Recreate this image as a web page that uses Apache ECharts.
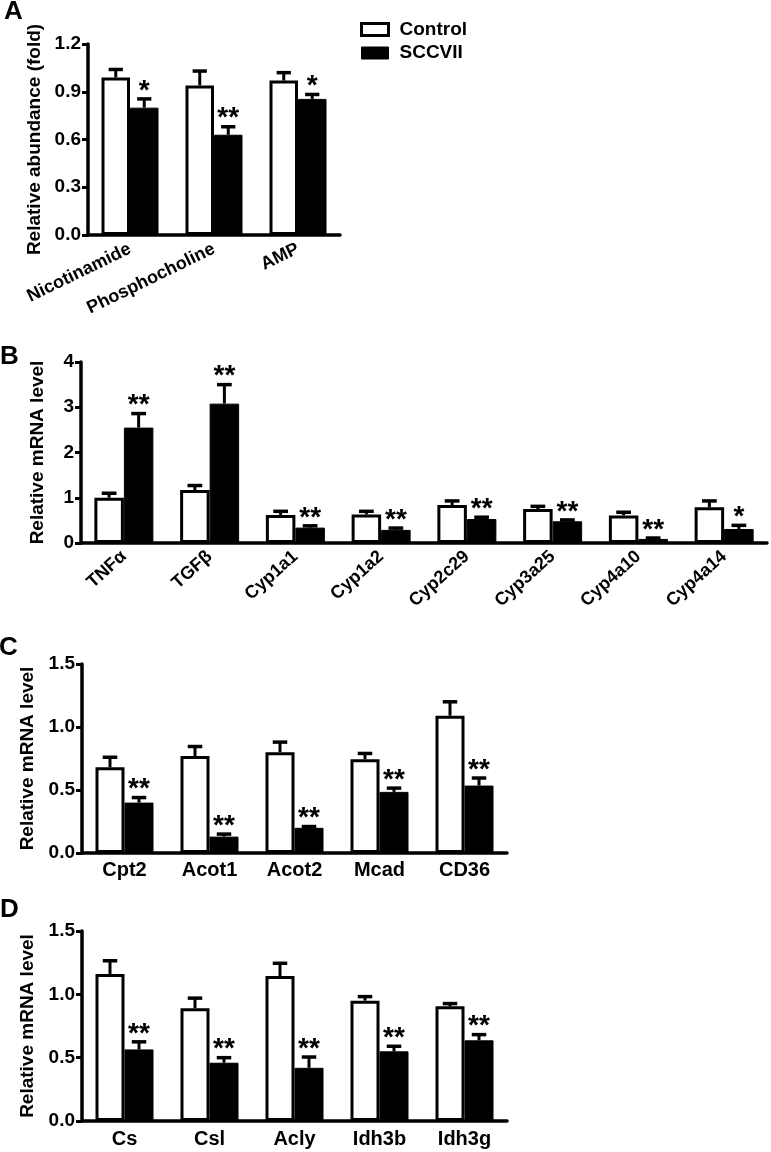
<!DOCTYPE html>
<html>
<head>
<meta charset="utf-8">
<script src="https://cdn.jsdelivr.net/npm/echarts@6/dist/echarts.min.js"></script>
<style>
html,body{margin:0;padding:0;background:#fff;}
#chart{width:771px;height:1152px;}
</style>
</head>
<body>
<div id="chart"></div>
<script>
// ---------- Panel A ----------
var catsA = ['Nicotinamide', 'Phosphocholine', 'AMP'];
var ctrlA = [0.99, 0.94, 0.97];
var ctrlSemA = [0.05, 0.09, 0.05];
var sccA = [0.80, 0.63, 0.855];
var sccSemA = [0.055, 0.05, 0.028];
var sigA = ['*', '**', '*'];
var ticksA = {min: 0, max: 1.2, interval: 0.3};

// ---------- Panel B ----------
var catsB = ['TNFα', 'TGFβ', 'Cyp1a1', 'Cyp1a2', 'Cyp2c29', 'Cyp3a25', 'Cyp4a10', 'Cyp4a14'];
var ctrlB = [1.00, 1.17, 0.62, 0.63, 0.84, 0.75, 0.61, 0.79];
var ctrlSemB = [0.10, 0.10, 0.08, 0.07, 0.09, 0.06, 0.07, 0.14];
var sccB = [2.55, 3.08, 0.34, 0.29, 0.53, 0.48, 0.09, 0.31];
var sccSemB = [0.31, 0.42, 0.04, 0.04, 0.04, 0.03, 0.02, 0.08];
var sigB = ['**', '**', '**', '**', '**', '**', '**', '*'];
var ticksB = {min: 0, max: 4, interval: 1};

// ---------- Panel C ----------
var catsC = ['Cpt2', 'Acot1', 'Acot2', 'Mcad', 'CD36'];
var ctrlC = [0.68, 0.77, 0.80, 0.745, 1.09];
var ctrlSemC = [0.08, 0.075, 0.08, 0.045, 0.11];
var sccC = [0.40, 0.13, 0.20, 0.485, 0.535];
var sccSemC = [0.04, 0.02, 0.01, 0.03, 0.06];
var sigC = ['**', '**', '**', '**', '**'];
var ticksC = {min: 0, max: 1.5, interval: 0.5};

// ---------- Panel D ----------
var catsD = ['Cs', 'Csl', 'Acly', 'Idh3b', 'Idh3g'];
var ctrlD = [1.16, 0.89, 1.145, 0.95, 0.905];
var ctrlSemD = [0.105, 0.08, 0.10, 0.032, 0.022];
var sccD = [0.565, 0.46, 0.42, 0.55, 0.637];
var sccSemD = [0.06, 0.04, 0.085, 0.04, 0.045];
var sigD = ['**', '**', '**', '**', '**'];
var ticksD = {min: 0, max: 1.5, interval: 0.5};

var yTitleA = 'Relative abundance (fold)';
var yTitleMRNA = 'Relative mRNA level';
var seriesNames = ['Control', 'SCCVII'];
var panelLetters = ['A', 'B', 'C', 'D'];

var FONT = '"Liberation Sans", Arial, sans-serif';

var panels = [
  {cats: catsA, ctrl: ctrlA, ctrlSem: ctrlSemA, scc: sccA, sccSem: sccSemA, sig: sigA, ticks: ticksA, dec: 1,
   grid: {left: 88, top: 44, width: 252, height: 191}, bw: 28.5, yName: yTitleA, nameGap: 44,
   xl: {rotate: 26, fontSize: 18, margin: 13}, letterPos: [13, 12]},
  {cats: catsB, ctrl: ctrlB, ctrlSem: ctrlSemB, scc: sccB, sccSem: sccSemB, sig: sigB, ticks: ticksB, dec: 0,
   grid: {left: 81, top: 362, width: 686, height: 181}, bw: 29.5, yName: yTitleMRNA, nameGap: 34,
   xl: {rotate: 42, fontSize: 18, margin: 11}, letterPos: [9, 357]},
  {cats: catsC, ctrl: ctrlC, ctrlSem: ctrlSemC, scc: sccC, sccSem: sccSemC, sig: sigC, ticks: ticksC, dec: 1,
   grid: {left: 82, top: 664, width: 425, height: 189}, bw: 29, yName: yTitleMRNA, nameGap: 43,
   xl: {rotate: 0, fontSize: 20, margin: 7}, letterPos: [8, 648]},
  {cats: catsD, ctrl: ctrlD, ctrlSem: ctrlSemD, scc: sccD, sccSem: sccSemD, sig: sigD, ticks: ticksD, dec: 1,
   grid: {left: 82, top: 931, width: 425, height: 190}, bw: 29, yName: yTitleMRNA, nameGap: 43,
   xl: {rotate: 0, fontSize: 20, margin: 8}, letterPos: [9, 910]}
];

var grids = [], xAxes = [], yAxes = [], series = [], graphics = [];

function errSeries(p, idx, vals, sems, side, sigs) {
  var data = vals.map(function (v, i) { return [i, v, sems[i]]; });
  return {
    type: 'custom',
    coordinateSystem: 'cartesian2d',
    xAxisIndex: idx, yAxisIndex: idx,
    z: 5,
    clip: false,
    silent: true,
    data: data,
    renderItem: function (params, api) {
      var c = api.coord([api.value(0), api.value(1)]);
      var e = api.coord([api.value(0), api.value(1) + api.value(2)]);
      var x = c[0] + side * p.bw / 2;
      var cap = p.bw / 4;
      var children = [
        {type: 'line', shape: {x1: x, y1: c[1], x2: x, y2: e[1]}, style: {stroke: '#000', lineWidth: 3}},
        {type: 'line', shape: {x1: x - cap, y1: e[1], x2: x + cap, y2: e[1]}, style: {stroke: '#000', lineWidth: 3.5}}
      ];
      if (sigs) {
        children.push({type: 'text', style: {text: sigs[params.dataIndex], x: x, y: e[1] - 8,
          align: 'center', verticalAlign: 'middle', fill: '#000', font: 'bold 28px ' + FONT}});
      }
      return {type: 'group', children: children};
    }
  };
}

panels.forEach(function (p, idx) {
  grids.push(p.grid);
  xAxes.push({
    type: 'category', gridIndex: idx, data: p.cats,
    axisLine: {lineStyle: {color: '#000', width: 3.5}},
    axisTick: {show: false},
    axisLabel: {interval: 0, color: '#000', fontWeight: 'bold', fontFamily: FONT,
      fontSize: p.xl.fontSize, rotate: p.xl.rotate, margin: p.xl.margin}
  });
  yAxes.push({
    type: 'value', gridIndex: idx, min: p.ticks.min, max: p.ticks.max, interval: p.ticks.interval,
    name: p.yName, nameLocation: 'middle', nameGap: p.nameGap, nameRotate: 90,
    nameTextStyle: {color: '#000', fontWeight: 'bold', fontSize: 19, fontFamily: FONT},
    splitLine: {show: false},
    axisLine: {show: true, lineStyle: {color: '#000', width: 3.5}},
    axisTick: {show: true, length: 6, lineStyle: {color: '#000', width: 3}},
    axisLabel: {color: '#000', fontWeight: 'bold', fontSize: 19, fontFamily: FONT, margin: 7,
      formatter: (function (d) { return function (v) { return v.toFixed(d); }; })(p.dec)}
  });
  series.push({
    name: seriesNames[0], type: 'bar', xAxisIndex: idx, yAxisIndex: idx, data: p.ctrl,
    barWidth: p.bw, barGap: '0%',
    itemStyle: {color: '#fff', borderColor: '#000', borderWidth: 3}
  });
  series.push({
    name: seriesNames[1], type: 'bar', xAxisIndex: idx, yAxisIndex: idx, data: p.scc,
    barWidth: p.bw, barGap: '0%',
    itemStyle: {color: '#000', borderColor: '#000', borderWidth: 1}
  });
  series.push(errSeries(p, idx, p.ctrl, p.ctrlSem, -1, null));
  series.push(errSeries(p, idx, p.scc, p.sccSem, 1, p.sig));
  graphics.push({type: 'text', left: p.letterPos[0] - 9, top: p.letterPos[1] - 13,
    style: {text: panelLetters[idx], fill: '#000', font: 'bold 26px ' + FONT}});
});

var chart = echarts.init(document.getElementById('chart'), null, {renderer: 'canvas'});
chart.setOption({
  backgroundColor: '#fff',
  animation: false,
  grid: grids,
  xAxis: xAxes,
  yAxis: yAxes,
  legend: {
    orient: 'vertical', left: 355, top: 14, itemWidth: 27, itemHeight: 12, itemGap: 2.5,
    icon: 'rect', selectedMode: false,
    textStyle: {color: '#000', fontWeight: 'bold', fontSize: 19, fontFamily: FONT, lineHeight: 21, padding: [0, 0, 0, 6]},
    data: [
      {name: seriesNames[0], itemStyle: {color: '#fff', borderColor: '#000', borderWidth: 3}},
      {name: seriesNames[1], itemStyle: {color: '#000', borderColor: '#000', borderWidth: 1}}
    ]
  },
  graphic: graphics,
  series: series
});
</script>
</body>
</html>
